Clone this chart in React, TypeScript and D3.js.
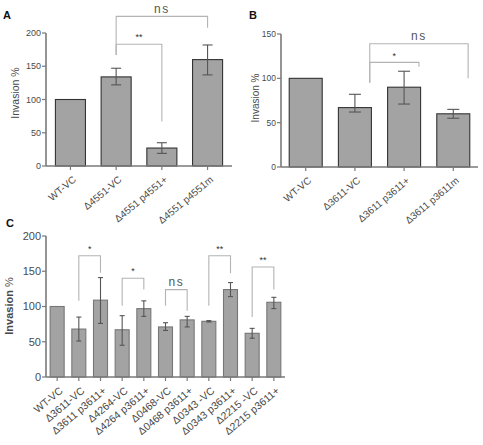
import React from "react";
import * as d3 from "d3";

// ---------- Data ----------
const catsA = ["WT-VC", "Δ4551-VC", "Δ4551 p4551+", "Δ4551 p4551m"];
const valsA = [100, 134, 27, 160];
const errLoA = [100, 122, 19, 137];
const errHiA = [100, 147, 35, 182];
const ticksA = [0, 50, 100, 150, 200];

const catsB = ["WT-VC", "Δ3611-VC", "Δ3611 p3611+", "Δ3611 p3611m"];
const valsB = [100, 67, 90, 60];
const errLoB = [100, 62, 71, 55];
const errHiB = [100, 82, 108, 65];
const ticksB = [0, 50, 100, 150];

const catsC = [
  "WT-VC", "Δ3611-VC", "Δ3611 p3611+", "Δ4264-VC", "Δ4264 p3611+",
  "Δ0468-VC", "Δ0468 p3611+", "Δ0343 -VC", "Δ0343 p3611+", "Δ2215 -VC", "Δ2215 p3611+",
];
const valsC = [100, 68, 109, 67, 97, 71, 81, 79, 124, 62, 106];
const errLoC = [100, 51, 76, 45, 86, 66, 71, 78, 114, 55, 97];
const errHiC = [100, 85, 141, 87, 108, 77, 86, 80, 134, 69, 113];
const ticksC = [0, 50, 100, 150, 200];

// significance brackets: from/to category index, top level, leg ends (data units)
const bracketsA = [
  { from: 1, to: 3, top: 225, left: 167, right: 208, label: "ns" },
  { from: 1, to: 2, top: 183, left: 167, right: 67, label: "**" },
];
const bracketsB = [
  { from: 1, to: 3, top: 139, left: 95, right: 100, label: "ns" },
  { from: 1, to: 2, top: 118, left: 95, right: 113, label: "*" },
];
const bracketsC = [
  { from: 1, to: 2, top: 172, left: 108, right: 148, label: "*" },
  { from: 3, to: 4, top: 140, left: 101, right: 124, label: "*" },
  { from: 5, to: 6, top: 124, left: 101, right: 94, label: "ns" },
  { from: 7, to: 8, top: 172, left: 101, right: 147, label: "**" },
  { from: 9, to: 10, top: 156, left: 85, right: 124, label: "**" },
];

type Bracket = { from: number; to: number; top: number; left: number; right: number; label: string };

type PanelProps = {
  cats: string[];
  vals: number[];
  lo: number[];
  hi: number[];
  ticks: number[];
  yMax: number;
  x0: number;
  x1: number;
  y0: number;
  y1: number;
  padInner: number;
  padOuter: number;
  brackets: Bracket[];
  bracketShift: number;
  cap: number;
  tickFont: number;
  labelFont: number;
  yLabel: { x: number; y: number; size: number; bold: boolean };
  letter: { t: string; x: number; y: number };
  barStroke: string;
  axisExtend: number;
};

function Panel(p: PanelProps) {
  const x = d3.scaleBand<string>().domain(p.cats).range([p.x0, p.x1]).paddingInner(p.padInner).paddingOuter(p.padOuter);
  const y = d3.scaleLinear().domain([0, p.yMax]).range([p.y0, p.y1]);
  const bw = x.bandwidth();
  const cx = (c: string) => (x(c) as number) + bw / 2;
  const axisCol = "#7a7a7a";
  const textCol = "#4a4a4a";
  const font = "Liberation Sans, Arial, sans-serif";
  return (
    <g fontFamily={font}>
      <text x={p.letter.x} y={p.letter.y} fontSize={11} fontWeight={600} fill="#111">{p.letter.t}</text>
      {/* bars */}
      {p.cats.map((c, i) => (
        <rect key={"b" + i} x={x(c)} y={y(p.vals[i])} width={bw} height={y(0) - y(p.vals[i])}
          fill="#a3a3a3" stroke={p.barStroke} strokeWidth={1.1} />
      ))}
      {/* error bars */}
      {p.cats.map((c, i) =>
        p.hi[i] === p.lo[i] ? null : (
          <g key={"e" + i} stroke="#555" strokeWidth={1.1}>
            <line x1={cx(c)} x2={cx(c)} y1={y(p.hi[i])} y2={y(p.lo[i])} />
            <line x1={cx(c) - p.cap} x2={cx(c) + p.cap} y1={y(p.hi[i])} y2={y(p.hi[i])} />
            <line x1={cx(c) - p.cap} x2={cx(c) + p.cap} y1={y(p.lo[i])} y2={y(p.lo[i])} />
          </g>
        )
      )}
      {/* axes */}
      <line x1={p.x0} x2={p.x0} y1={p.y1} y2={p.y0} stroke={axisCol} strokeWidth={1.6} />
      <line x1={p.x0} x2={p.x1 + p.axisExtend} y1={p.y0} y2={p.y0} stroke={axisCol} strokeWidth={1.6} />
      {p.ticks.map((t) => (
        <g key={"t" + t}>
          <line x1={p.x0 - 4} x2={p.x0} y1={y(t)} y2={y(t)} stroke={axisCol} strokeWidth={1.2} />
          <text x={p.x0 - 5} y={y(t)} dy="0.35em" textAnchor="end" fontSize={p.tickFont} fill={textCol}>{t}</text>
        </g>
      ))}
      {p.cats.map((c, i) => (
        <g key={"x" + i}>
          <line x1={cx(c)} x2={cx(c)} y1={p.y0} y2={p.y0 + 4} stroke={axisCol} strokeWidth={1.2} />
          <text transform={`translate(${cx(c) + 4},${p.y0 + 12}) rotate(-40)`} dy="0.35em" textAnchor="end"
            fontSize={p.labelFont} fill={textCol}>{c}</text>
        </g>
      ))}
      <text transform={`translate(${p.yLabel.x},${p.yLabel.y}) rotate(-90)`} textAnchor="middle" dy="0.35em"
        fontSize={p.yLabel.size} fontWeight={p.yLabel.bold ? 700 : 400} fill={textCol}>
        {p.yLabel.bold ? (<><tspan>Invasion</tspan><tspan fontWeight={400}> %</tspan></>) : "Invasion %"}
      </text>
      {/* brackets */}
      {p.brackets.map((b, i) => {
        const xl = cx(p.cats[b.from]) + p.bracketShift * bw;
        const xr = cx(p.cats[b.to]) + p.bracketShift * bw;
        const isNs = b.label === "ns";
        return (
          <g key={"k" + i}>
            <path d={`M${xl},${y(b.left)}V${y(b.top)}H${xr}V${y(b.right)}`} fill="none" stroke="#b4b4b4" strokeWidth={1.1} />
            <text x={(xl + xr) / 2} y={y(b.top) - (isNs ? 8 : 7)} dy="0.35em" textAnchor="middle"
              fontSize={isNs ? 12 : 9} letterSpacing={isNs ? 1.5 : 0} fill={isNs ? "#555" : "#333"}>{b.label}</text>
          </g>
        );
      })}
    </g>
  );
}

export default function App() {
  return (
    <svg width={483} height={445} style={{ position: "absolute", left: 0, top: 0, background: "#fff" }}>
      <Panel cats={catsA} vals={valsA} lo={errLoA} hi={errHiA} ticks={ticksA} yMax={200}
        x0={46} x1={232} y0={166} y1={33} padInner={0.343} padOuter={0.206}
        brackets={bracketsA} bracketShift={0} cap={5} tickFont={9} labelFont={10}
        yLabel={{ x: 15, y: 93, size: 10.5, bold: false }} letter={{ t: "A", x: 3, y: 19 }}
        barStroke="#333" axisExtend={0} />
      <Panel cats={catsB} vals={valsB} lo={errLoB} hi={errHiB} ticks={ticksB} yMax={150}
        x0={281} x1={478} y0={167} y1={34} padInner={0.329} padOuter={0.167}
        brackets={bracketsB} bracketShift={0.45} cap={6} tickFont={8.5} labelFont={10}
        yLabel={{ x: 255, y: 98, size: 10, bold: false }} letter={{ t: "B", x: 249, y: 19 }}
        barStroke="#333" axisExtend={0} />
      <Panel cats={catsC} vals={valsC} lo={errLoC} hi={errHiC} ticks={ticksC} yMax={200}
        x0={46} x1={285} y0={377} y1={236} padInner={0.354} padOuter={0.192}
        brackets={bracketsC} bracketShift={0} cap={2.5} tickFont={11} labelFont={10.5}
        yLabel={{ x: 9, y: 306, size: 11, bold: true }} letter={{ t: "C", x: 6, y: 227 }}
        barStroke="#777" axisExtend={0} />
    </svg>
  );
}
